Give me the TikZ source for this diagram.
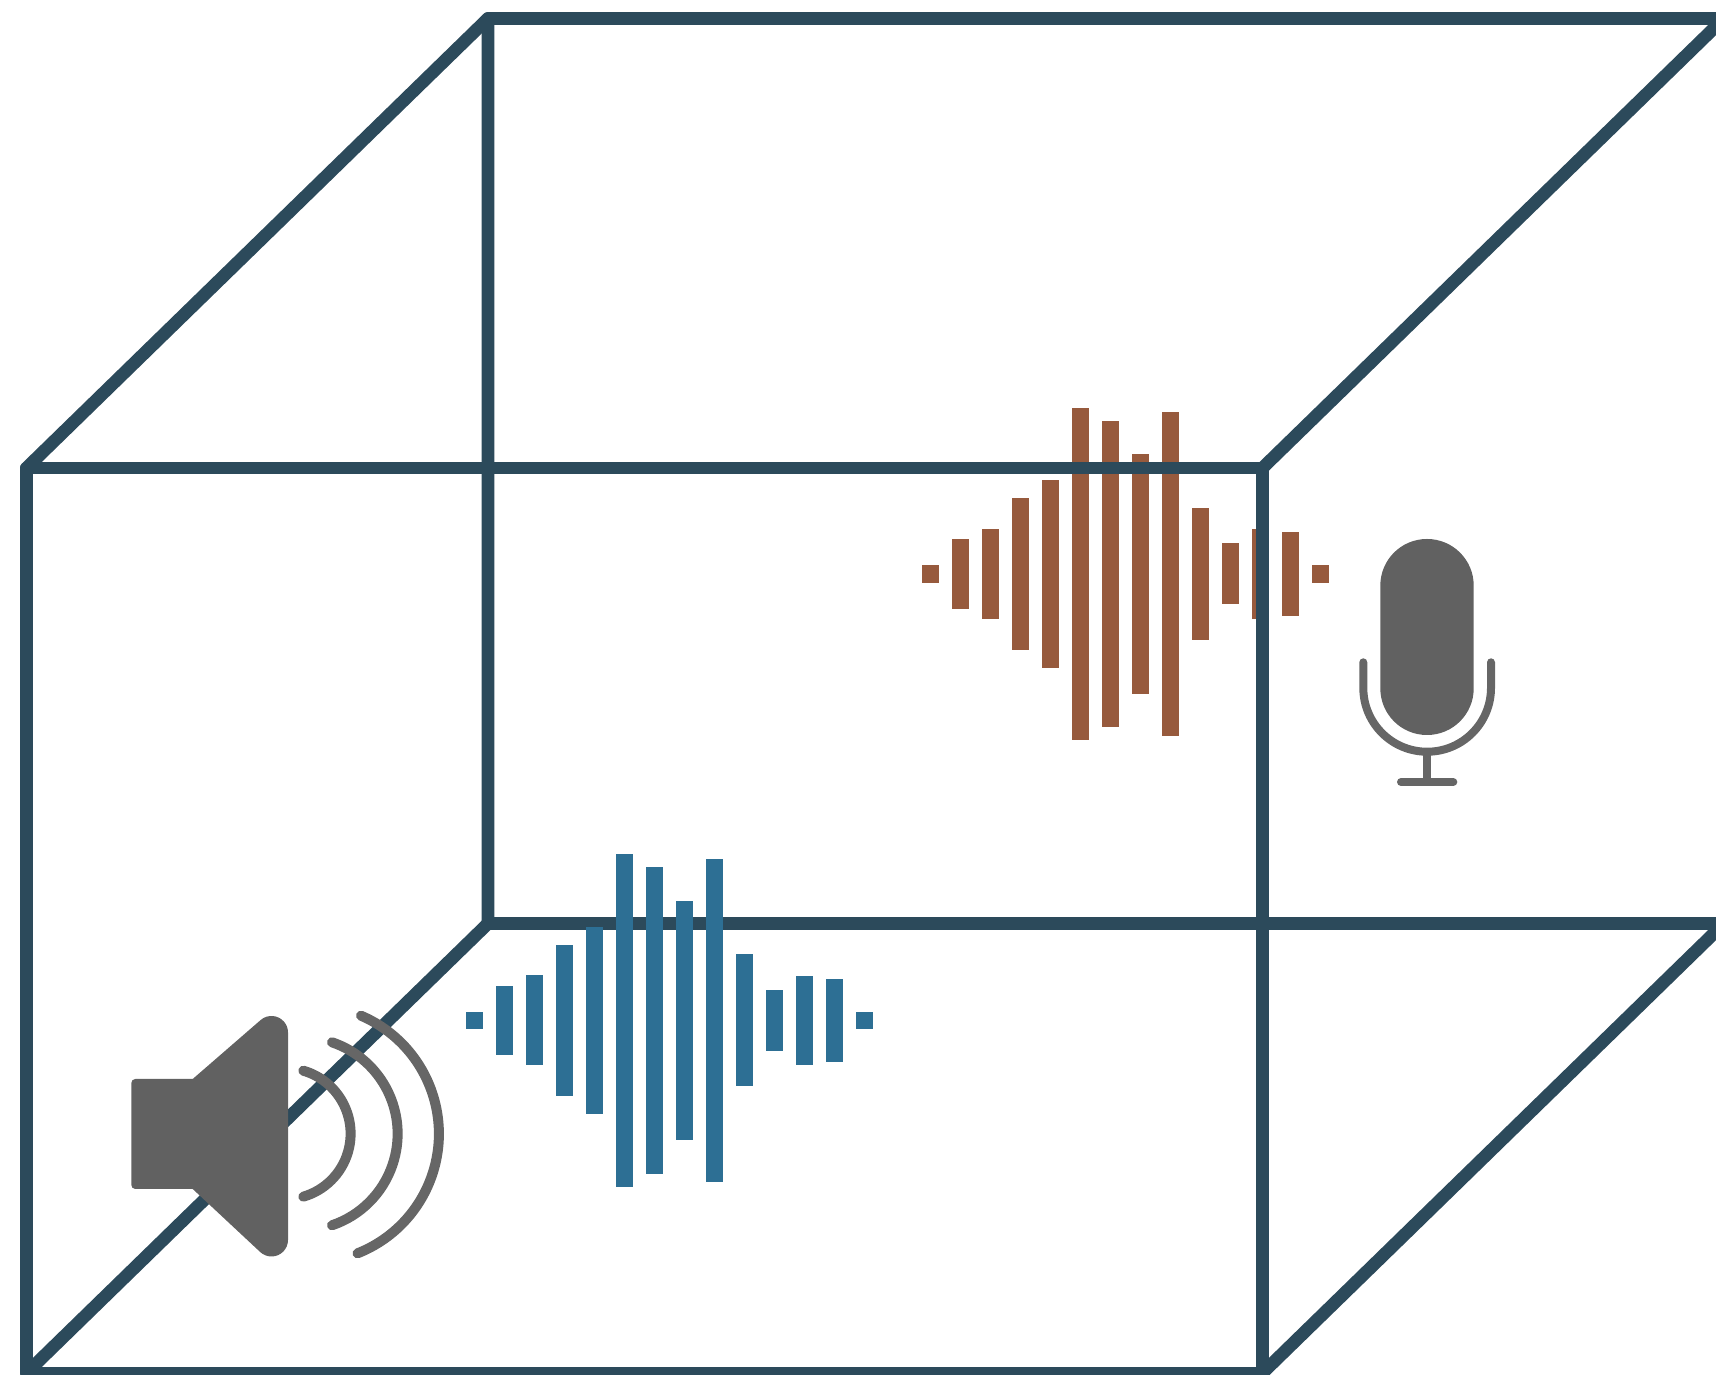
\documentclass[tikz,border=0pt]{standalone}
\usepackage{xcolor}
\definecolor{cubeblue}{RGB}{44, 74, 91}
\definecolor{wavegray}{RGB}{97, 97, 97}
\definecolor{arcgray}{RGB}{102, 102, 102}
\definecolor{directblue}{RGB}{45, 111, 148}
\definecolor{echobrown}{RGB}{151, 90, 61}
\tikzset{
  cube/.style={draw=cubeblue, line width=12.7pt, line cap=round, line join=round},
  ring/.style={draw=arcgray, line width=10pt, line cap=round},
  micline/.style={draw=arcgray, line width=8pt, line cap=round}
}

\begin{document}
\begin{tikzpicture}[x=1pt, y=1pt]
\clip (0,0) rectangle (1716,1375);
\coordinate (ftl) at (26.5,907);
\coordinate (ftr) at (1262.5,907);
\coordinate (fbl) at (26.5,2);
\coordinate (fbr) at (1262.5,2);
\coordinate (btl) at (488,1356.5);
\coordinate (btr) at (1724,1356.5);
\coordinate (bbl) at (488,451.5);
\coordinate (bbr) at (1724,451.5);
% back of the room
\draw[cube] (ftl) -- (btl) -- (btr) -- (ftr);
\draw[cube] (btl) -- (bbl) -- (bbr) -- (fbr);
\draw[cube] (bbl) -- (fbl);
% sound leaving the speaker
\foreach \h [count=\i from 0] in {8.5,34.5,45,75.5,93.5,166.5,153.5,119.5,161.5,66,30.5,44.5,41.5,8.5}
  \fill[directblue] ({466+30*\i},{354.5-\h}) rectangle ({483+30*\i},{354.5+\h});
% speaker
\fill[wavegray] (135.3,296) -- (192.7,296) -- (260.7,355) arc[start angle=130.9, end angle=0, radius=16.5]
  -- (288,135) arc[start angle=0, end angle=-133, radius=16.5] -- (192.7,186) -- (135.3,186)
  arc[start angle=270, end angle=180, radius=4] -- (131.3,292) arc[start angle=180, end angle=90, radius=4] -- cycle;
\draw[ring] (303.3,304.3) arc[start angle=73.8, end angle=-73.8, radius=65.6];
\draw[ring] (332,332.7) arc[start angle=71.3, end angle=-71.3, radius=96.6];
\draw[ring] (361,359.3) arc[start angle=66.8, end angle=-68.5, radius=128.5];
% sound reaching the microphone
\foreach \h [count=\i from 0] in {9,35,45,76,94,166,153,120,162,66,30.5,45,42,9}
  \fill[echobrown] ({922+30*\i},{801-\h}) rectangle ({939+30*\i},{801+\h});
% front of the room
\draw[cube] (ftl) -- (ftr) -- (fbr) -- (fbl) -- cycle;
% microphone
\fill[wavegray, rounded corners=46.6pt] (1380.3,640) rectangle (1473.7,836);
\draw[micline] (1363.3,712.7) -- (1363.3,687.1) arc[start angle=180, end angle=360, radius=63.85] -- (1491,712.7);
\draw[micline, line cap=butt] (1427,623) -- (1427,593);
\draw[micline] (1401,593) -- (1453.3,593);
\end{tikzpicture}
\end{document}
